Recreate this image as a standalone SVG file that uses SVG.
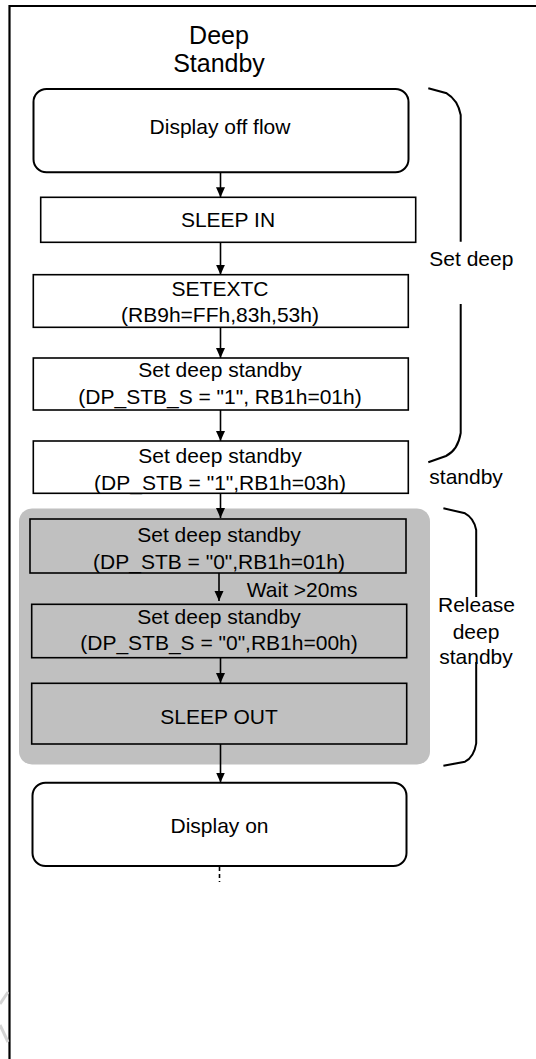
<svg xmlns="http://www.w3.org/2000/svg" width="536" height="1059" viewBox="0 0 536 1059">
<style>
text{font-family:"Liberation Sans",Arial,sans-serif;font-size:21px;fill:#000;text-anchor:middle}
.t{font-size:25px}
.l{text-anchor:start}
.box{fill:#fff;stroke:#000;stroke-width:1.6}
.gbox{fill:#c0c0c0;stroke:#000;stroke-width:1.6}
.rbox{fill:#fff;stroke:#000;stroke-width:2}
.c{stroke:#000;stroke-width:1.6;fill:none}
.br{stroke:#000;stroke-width:2;fill:none}
</style>
<defs>
<marker id="ah" markerUnits="userSpaceOnUse" markerWidth="10" markerHeight="10" refX="10" refY="4.5" orient="auto">
<path d="M0,0 L10,4.5 L0,9 z" fill="#000"/>
</marker>
</defs>
<rect width="536" height="1059" fill="#fff"/>
<g id="frame">
<path d="M9.5,1059 V6 H536" fill="none" stroke="#000" stroke-width="2.2"/>
</g>
<g id="watermark" stroke="#d4d4d4" stroke-width="3" fill="none">
<path d="M8,992 L0,1004"/>
<path d="M0,1025 L8,1042"/>
</g>
<g id="title">
<text class="t" x="219" y="44">Deep</text>
<text class="t" x="219" y="72">Standby</text>
</g>
<g id="release-bg">
<rect x="19" y="508.5" width="411" height="256" rx="13" fill="#c0c0c0"/>
</g>
<g id="display-off">
<rect class="rbox" x="33.5" y="89" width="375" height="83.3" rx="13"/>
<text x="220" y="134">Display off flow</text>
</g>
<g id="sleep-in">
<rect class="box" x="40.7" y="197.3" width="375" height="45"/>
<text x="228" y="227">SLEEP IN</text>
</g>
<g id="setextc">
<rect class="box" x="33.3" y="274.7" width="375" height="52.6"/>
<text x="220" y="296">SETEXTC</text>
<text x="220" y="322">(RB9h=FFh,83h,53h)</text>
</g>
<g id="set-dstb-s1">
<rect class="box" x="33.3" y="358" width="375" height="52"/>
<text x="220" y="377">Set deep standby</text>
<text x="220" y="403.5">(DP_STB_S = "1", RB1h=01h)</text>
</g>
<g id="set-dstb1">
<rect class="box" x="33.3" y="441" width="375" height="52.3"/>
<text x="220" y="463">Set deep standby</text>
<text x="220" y="490">(DP_STB = "1",RB1h=03h)</text>
</g>
<g id="set-dstb0">
<rect class="gbox" x="30" y="519" width="376" height="54"/>
<text x="219" y="542">Set deep standby</text>
<text x="219" y="568.5">(DP_STB = "0",RB1h=01h)</text>
</g>
<g id="set-dstb-s0">
<rect class="gbox" x="31.7" y="604.3" width="375" height="53.4"/>
<text x="219" y="623.5">Set deep standby</text>
<text x="219" y="650">(DP_STB_S = "0",RB1h=00h)</text>
</g>
<g id="sleep-out">
<rect class="gbox" x="31.7" y="683.3" width="375" height="60.7"/>
<text x="219" y="723.5">SLEEP OUT</text>
</g>
<g id="display-on">
<rect class="rbox" x="32.5" y="782.7" width="374" height="83.3" rx="13"/>
<text x="219.5" y="833">Display on</text>
</g>
<g id="connectors">
<line class="c" x1="220.5" y1="172.3" x2="220.5" y2="197.3" marker-end="url(#ah)"/>
<line class="c" x1="220.5" y1="242.3" x2="220.5" y2="274.7" marker-end="url(#ah)"/>
<line class="c" x1="220.5" y1="327.3" x2="220.5" y2="358" marker-end="url(#ah)"/>
<line class="c" x1="220.5" y1="410" x2="220.5" y2="441" marker-end="url(#ah)"/>
<line class="c" x1="220.5" y1="493.3" x2="220.5" y2="518" marker-end="url(#ah)"/>
<line class="c" x1="219" y1="573" x2="219" y2="601" marker-end="url(#ah)"/>
<line class="c" x1="220.5" y1="657.7" x2="220.5" y2="683" marker-end="url(#ah)"/>
<line class="c" x1="220.5" y1="744" x2="220.5" y2="782.5" marker-end="url(#ah)"/>
<line class="c" x1="219.5" y1="867" x2="219.5" y2="882" stroke-dasharray="4,3"/>
<text class="l" x="246.8" y="597.3">Wait &gt;20ms</text>
</g>
<g id="set-deep-standby-label">
<path class="br" d="M428.3,88.3 L446.7,93.3 Q458,100 460.7,115 V241.7"/>
<path class="br" d="M460.7,304 V433 Q458,450 446,456 L428.3,462.3"/>
<text class="l" x="429.3" y="266">Set deep</text>
<text class="l" x="429.3" y="484">standby</text>
</g>
<g id="release-label">
<path class="br" d="M443.4,508.3 L465,513.3 Q474,518 476.2,530 V597"/>
<path class="br" d="M476.2,662 V743.3 Q474,757 465,761.7 L443.4,765.7"/>
<text x="476.5" y="612">Release</text>
<text x="476" y="638.5">deep</text>
<text x="476" y="664">standby</text>
</g>
</svg>
